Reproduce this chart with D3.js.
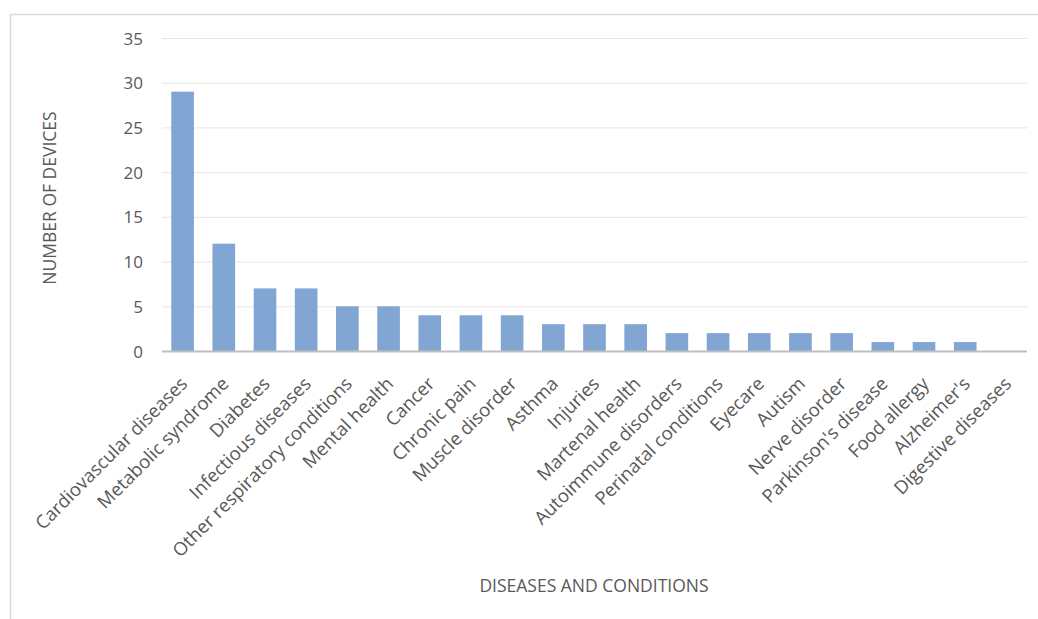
<!DOCTYPE html>
<html>
<head>
<meta charset="utf-8">
<script src="https://cdn.jsdelivr.net/npm/d3@7"></script>
<style>
  html, body { margin: 0; padding: 0; background: #fff; }
  svg { display: block; }
</style>
</head>
<body>
<svg id="chart" width="1038" height="619"></svg>
<script>
// Number of devices per disease / condition
const categories = [
  "Cardiovascular diseases", "Metabolic syndrome", "Diabetes", "Infectious diseases",
  "Other respiratory conditions", "Mental health", "Cancer", "Chronic pain",
  "Muscle disorder", "Asthma", "Injuries", "Martenal health", "Autoimmune disorders",
  "Perinatal conditions", "Eyecare", "Autism", "Nerve disorder", "Parkinson's disease",
  "Food allergy", "Alzheimer's", "Digestive diseases"
];
const devices = [29, 12, 7, 7, 5, 5, 4, 4, 4, 3, 3, 3, 2, 2, 2, 2, 2, 1, 1, 1, 0];
const yTicks = [0, 5, 10, 15, 20, 25, 30, 35];

const svg = d3.select("#chart");
const W = 1038, H = 619;
const plot = { left: 162, right: 1027, top: 38, bottom: 351 };
const textColor = "#595959";
const labelFont = "'Open Sans', 'Liberation Sans', sans-serif";

// chart area frame
svg.append("rect")
  .attr("x", 10.5).attr("y", 14.5)
  .attr("width", W + 20).attr("height", H + 20)
  .attr("fill", "#fff").attr("stroke", "#d9d9d9").attr("stroke-width", 1.5);

const x = d3.scaleBand()
  .domain(categories)
  .range([plot.left, plot.right])
  .paddingInner(0.45).paddingOuter(0.225);

const y = d3.scaleLinear()
  .domain([0, 35])
  .range([plot.bottom, plot.top]);

// horizontal gridlines
svg.append("g")
  .selectAll("line")
  .data(yTicks.filter(d => d > 0))
  .join("line")
  .attr("x1", plot.left).attr("x2", plot.right)
  .attr("y1", d => y(d) + 0.5).attr("y2", d => y(d) + 0.5)
  .attr("stroke", "#e6e6e6").attr("stroke-width", 1);

// y axis tick labels
const yAxis = d3.axisLeft(y).tickValues(yTicks).tickSize(0).tickPadding(0);
const yg = svg.append("g")
  .attr("transform", `translate(${plot.left - 19},0)`)
  .call(yAxis);
yg.select(".domain").remove();
yg.selectAll("text")
  .attr("fill", textColor)
  .attr("font-family", labelFont)
  .attr("font-size", 17)
  .attr("dy", "0.36em");

// bars
svg.append("g")
  .selectAll("rect")
  .data(categories.map((c, i) => ({ c, v: devices[i] })))
  .join("rect")
  .attr("x", d => x(d.c))
  .attr("width", x.bandwidth())
  .attr("y", d => y(d.v))
  .attr("height", d => y(0) - y(d.v))
  .attr("fill", "#82a6d3");

// baseline
svg.append("line")
  .attr("x1", plot.left).attr("x2", plot.right)
  .attr("y1", y(0) + 0.5).attr("y2", y(0) + 0.5)
  .attr("stroke", "#bfbfbf").attr("stroke-width", 2);

// x axis category labels, rotated
const xAxis = d3.axisBottom(x).tickSize(0).tickPadding(0);
const xg = svg.append("g")
  .attr("transform", `translate(0,${plot.bottom})`)
  .call(xAxis);
xg.select(".domain").remove();
xg.selectAll("text")
  .attr("fill", textColor)
  .attr("font-family", labelFont)
  .attr("font-size", 18.5)
  .attr("text-anchor", "end")
  .attr("dy", null)
  .attr("y", 0)
  .attr("transform", "translate(6,34) rotate(-45)");

// axis titles
svg.append("text")
  .attr("transform", `translate(56,${(113 + 283) / 2}) rotate(-90)`)
  .attr("text-anchor", "middle")
  .attr("fill", textColor)
  .attr("font-family", labelFont)
  .attr("font-size", 17.5)
  .text("NUMBER OF DEVICES");

svg.append("text")
  .attr("x", 594).attr("y", 592)
  .attr("text-anchor", "middle")
  .attr("fill", textColor)
  .attr("font-family", labelFont)
  .attr("font-size", 17.5)
  .text("DISEASES AND CONDITIONS");
</script>
</body>
</html>
